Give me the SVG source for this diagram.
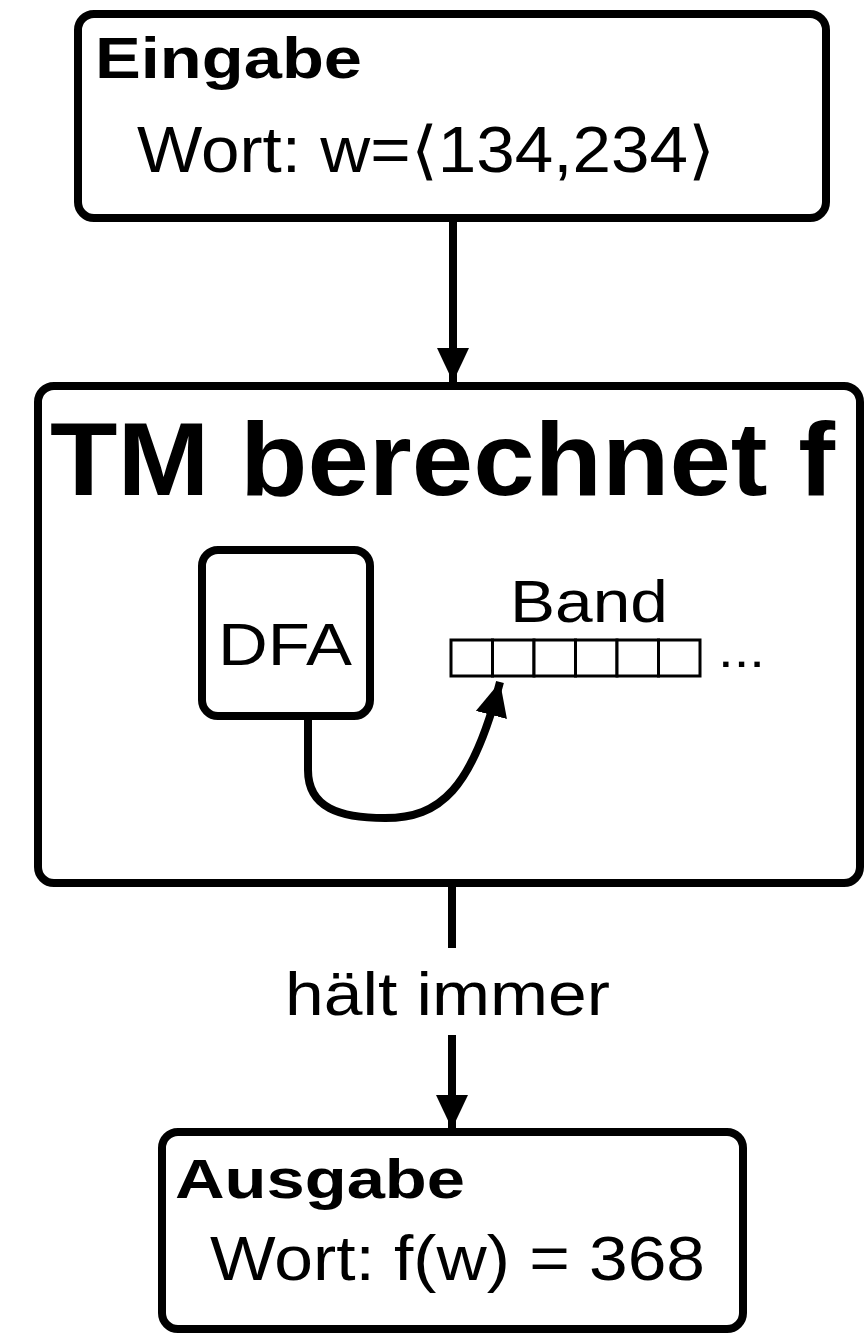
<svg xmlns="http://www.w3.org/2000/svg" width="865" height="1337" viewBox="0 0 865 1337">
<style>
.box{fill:#fff;stroke:#000;stroke-width:8}
.t{font-family:"Liberation Sans",Arial,sans-serif;fill:#000}
.b{font-weight:bold}
.conn{fill:none;stroke:#000;stroke-width:8}
.cell{fill:#fff;stroke:#000;stroke-width:3}
</style>
<defs>
<marker id="ah" markerUnits="userSpaceOnUse" markerWidth="34" markerHeight="40" refX="34" refY="16" orient="auto">
<path d="M0,0 L34,16 L0,32 Z" fill="#000"/>
</marker>
</defs>
<rect width="865" height="1337" fill="#fff"/>
<g id="eingabe">
<rect class="box" x="78" y="14" width="748" height="204" rx="16"/>
<text class="t b" x="95" y="78" font-size="57" textLength="267" lengthAdjust="spacingAndGlyphs">Eingabe</text>
<text class="t" x="137" y="172" font-size="64" textLength="578" lengthAdjust="spacingAndGlyphs">Wort: w=⟨134,234⟩</text>
</g>
<g id="tm">
<rect class="box" x="38" y="386" width="822" height="497" rx="16"/>
<text class="t b" x="50" y="495" font-size="104" textLength="785" lengthAdjust="spacingAndGlyphs">TM berechnet f</text>
</g>
<g id="dfa">
<rect class="box" x="202" y="550" width="168" height="166" rx="16"/>
<text class="t" x="218" y="665" font-size="60" textLength="134" lengthAdjust="spacingAndGlyphs">DFA</text>
</g>
<g id="band">
<text class="t" x="510" y="622" font-size="60" textLength="158" lengthAdjust="spacingAndGlyphs">Band</text>
<rect class="cell" x="451" y="640" width="41.5" height="36"/>
<rect class="cell" x="492.5" y="640" width="41.5" height="36"/>
<rect class="cell" x="534" y="640" width="41.5" height="36"/>
<rect class="cell" x="575.5" y="640" width="41.5" height="36"/>
<rect class="cell" x="617" y="640" width="41.5" height="36"/>
<rect class="cell" x="658.5" y="640" width="41.5" height="36"/>
<text class="t" x="718" y="667" font-size="50" textLength="47" lengthAdjust="spacingAndGlyphs">...</text>
</g>
<g id="ausgabe">
<rect class="box" x="162" y="1132" width="581" height="197" rx="16"/>
<text class="t b" x="175" y="1198" font-size="56" textLength="290" lengthAdjust="spacingAndGlyphs">Ausgabe</text>
<text class="t" x="210" y="1280" font-size="63" textLength="495" lengthAdjust="spacingAndGlyphs">Wort: f(w) = 368</text>
</g>
<g id="connectors">
<line class="conn" x1="453" y1="222" x2="453" y2="382" marker-end="url(#ah)"/>
<path class="conn" d="M308,718 L308,770 C308,808 340,818 385,818 C440,818 472,790 500,682" marker-end="url(#ah)"/>
<line class="conn" x1="452" y1="887" x2="452" y2="948"/>
<text class="t" x="285" y="1015" font-size="62" textLength="325" lengthAdjust="spacingAndGlyphs">hält immer</text>
<line class="conn" x1="452" y1="1035" x2="452" y2="1129" marker-end="url(#ah)"/>
</g>
</svg>
